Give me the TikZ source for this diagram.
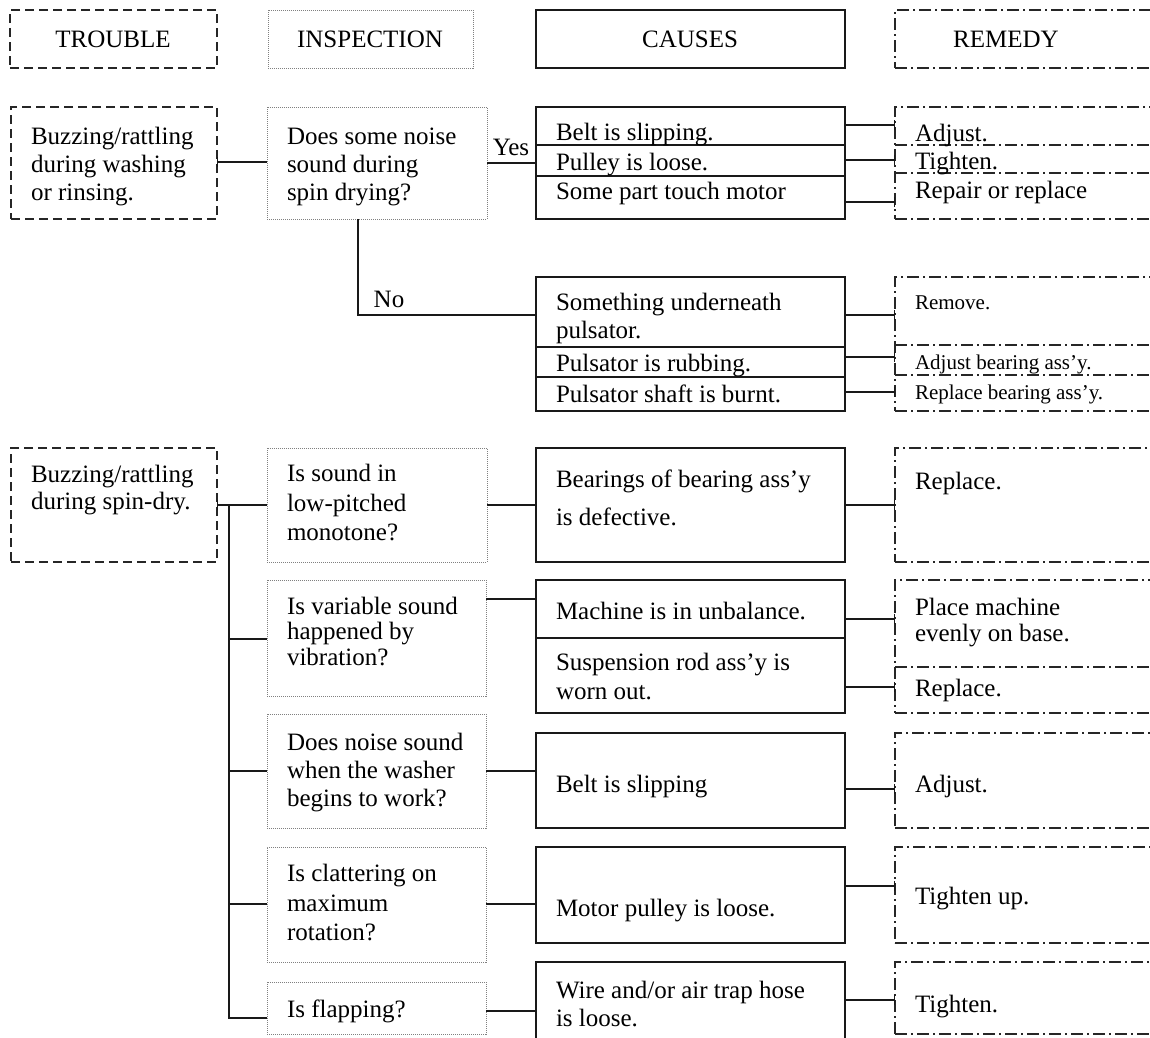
\documentclass[tikz,border=0pt]{standalone}
\usepackage{fontspec}
\setmainfont{Liberation Serif}
\usetikzlibrary{arrows.meta}
\newcommand\bx[6]{\node[#1, minimum width={(#4)-(#2)}, minimum height={(#5)-(#3)}] (#6) at ({((#2)+(#4))/2},{((#3)+(#5))/2}) {};}
\begin{document}
\begin{tikzpicture}[x=1pt,y=-1pt,
  every node/.style={inner sep=0pt, outer sep=0pt},
  trbox/.style={draw=black!85, line width=1.5pt, dash pattern=on 9pt off 5pt},
  inbox/.style={draw=black!50, line width=1pt, dash pattern=on 1pt off 1pt},
  cabox/.style={draw=black!90, line width=2pt},
  rebox/.style={draw=black!85, line width=1.5pt, dash pattern=on 12pt off 4pt on 2pt off 4pt},
  sepline/.style={draw=black!90, line width=1.8pt},
  rsep/.style={draw=black!85, line width=1.5pt, dash pattern=on 12pt off 4pt on 2pt off 4pt},
  conn/.style={draw=black!90, line width=2pt},
  rt/.style={-{Bar[width=10pt,line width=1.4pt]}},
  lt/.style={{Bar[width=10pt,line width=1.4pt]}-},
  txt/.style={anchor=west, align=left, yshift=-4pt, font=\fontsize{25}{27}\selectfont, execute at begin node=\strut, execute at end node=\strut},
  stxt/.style={anchor=west, align=left, yshift=-3pt, font=\fontsize{21}{24}\selectfont, execute at begin node=\strut, execute at end node=\strut},
  htxt/.style={anchor=center, font=\fontsize{25}{27}\selectfont, execute at begin node=\strut},
]
\useasboundingbox (0,0) rectangle (1150,1037);
\clip (0,0) rectangle (1150,1037);

% ---------- headers ----------
\bx{trbox}{10}{10}{217}{68}{hT}
\bx{inbox}{268}{10}{473}{68}{hI}
\bx{cabox}{536}{10}{845}{68}{hC}
\bx{rebox}{895}{10}{1170}{68}{hR}
\node[htxt] (hTt) at (113,42) {TROUBLE};
\node[htxt] (hIt) at (370,42) {INSPECTION};
\node[htxt] (hCt) at (690,42) {CAUSES};
\node[htxt] (hRt) at (1006,42) {REMEDY};

% ---------- trouble 1 ----------
\bx{trbox}{11}{107}{217}{219}{t1}
\bx{inbox}{267}{107}{487}{219}{i1}
\bx{cabox}{536}{107}{845}{219}{c1}
\bx{rebox}{895}{107}{1170}{219}{r1}
\draw[sepline] (c1.west |- 0,145) -- (c1.east |- 0,145);
\draw[sepline] (c1.west |- 0,176) -- (c1.east |- 0,176);
\draw[rsep] (r1.west |- 0,145) -- (r1.east |- 0,145);
\draw[rsep] (r1.west |- 0,173) -- (r1.east |- 0,173);

\bx{cabox}{536}{277}{845}{411}{c2}
\bx{rebox}{895}{277}{1170}{411}{r2}
\draw[sepline] (c2.west |- 0,347) -- (c2.east |- 0,347);
\draw[sepline] (c2.west |- 0,377) -- (c2.east |- 0,377);
\draw[rsep] (r2.west |- 0,345) -- (r2.east |- 0,345);
\draw[rsep] (r2.west |- 0,375) -- (r2.east |- 0,375);

\node[txt, font=\fontsize{25}{28}\selectfont] (t1x) at (31,164) {Buzzing/rattling\\during washing\\or rinsing.};
\node[txt, font=\fontsize{25}{28}\selectfont] (i1x) at (287,164) {Does some noise\\sound during\\spin drying?};
\node[txt] (c1a) at (556,131) {Belt is slipping.};
\node[txt] (c1b) at (556,161) {Pulley is loose.};
\node[txt] (c1c) at (556,190) {Some part touch motor};
\node[txt] (r1a) at (915,132) {Adjust.};
\node[txt] (r1b) at (915,160) {Tighten.};
\node[txt] (r1c) at (915,189) {Repair or replace};
\node[htxt] (yes) at (511,150) {Yes};
\node[htxt] (no) at (389,302) {No};
\node[txt, font=\fontsize{25}{28}\selectfont] (c2a) at (556,316) {Something underneath\\pulsator.};
\node[txt] (c2b) at (556,362) {Pulsator is rubbing.};
\node[txt] (c2c) at (556,393) {Pulsator shaft is burnt.};
\node[stxt] (r2a) at (915,302) {Remove.};
\node[stxt] (r2b) at (915,362) {Adjust bearing ass’y.};
\node[stxt] (r2c) at (915,392) {Replace bearing ass’y.};

\draw[conn, lt] (t1.east |- 0,162) -- (i1.west |- 0,162);
\draw[conn] (i1.east |- 0,163) -- (c1.west |- 0,163);
\draw[conn, rt] (c1.east |- 0,125) -- (r1.west |- 0,125);
\draw[conn, rt] (c1.east |- 0,160) -- (r1.west |- 0,160);
\draw[conn, rt] (c1.east |- 0,202) -- (r1.west |- 0,202);
\coordinate (nob) at (358,315);
\draw[conn] (i1.south -| nob) |- (c2.west |- nob);
\draw[conn, rt] (c2.east |- 0,315) -- (r2.west |- 0,315);
\draw[conn, rt] (c2.east |- 0,357) -- (r2.west |- 0,357);
\draw[conn, rt] (c2.east |- 0,392) -- (r2.west |- 0,392);

% ---------- trouble 2 ----------
\bx{trbox}{11}{448}{217}{562}{t2}
\bx{inbox}{267}{448}{487}{562}{i21}
\bx{cabox}{536}{448}{845}{562}{c21}
\bx{rebox}{895}{448}{1170}{562}{r21}
\bx{inbox}{267}{580}{486}{696}{i22}
\bx{cabox}{536}{580}{845}{713}{c22}
\bx{rebox}{895}{580}{1170}{713}{r22}
\draw[sepline] (c22.west |- 0,638) -- (c22.east |- 0,638);
\draw[rsep] (r22.west |- 0,667) -- (r22.east |- 0,667);
\bx{inbox}{267}{714}{486}{828}{i23}
\bx{cabox}{536}{733}{845}{828}{c23}
\bx{rebox}{895}{733}{1170}{828}{r23}
\bx{inbox}{267}{847}{486}{962}{i24}
\bx{cabox}{536}{847}{845}{943}{c24}
\bx{rebox}{895}{847}{1170}{943}{r24}
\bx{inbox}{267}{982}{486}{1034}{i25}
\bx{cabox}{536}{962}{845}{1045}{c25}
\bx{rebox}{895}{962}{1170}{1034}{r25}

\node[txt] (t2x) at (31,487) {Buzzing/rattling\\during spin-dry.};
\node[txt, font=\fontsize{25}{29.5}\selectfont] (i21x) at (287,503) {Is sound in\\low-pitched\\monotone?};
\node[txt, font=\fontsize{25}{38}\selectfont] (c21x) at (556,499) {Bearings of bearing ass’y\\is defective.};
\node[txt] (r21x) at (915,480) {Replace.};
\node[txt, font=\fontsize{25}{25.5}\selectfont] (i22x) at (287,631) {Is variable sound\\happened by\\vibration?};
\node[txt] (c22a) at (556,610) {Machine is in unbalance.};
\node[txt, font=\fontsize{25}{29}\selectfont] (c22b) at (556,677) {Suspension rod ass’y is\\worn out.};
\node[txt, font=\fontsize{25}{26}\selectfont] (r22a) at (915,620) {Place machine\\evenly on base.};
\node[txt] (r22b) at (915,687) {Replace.};
\node[txt, font=\fontsize{25}{28}\selectfont] (i23x) at (287,770) {Does noise sound\\when the washer\\begins to work?};
\node[txt] (c23x) at (556,783) {Belt is slipping};
\node[txt] (r23x) at (915,783) {Adjust.};
\node[txt, font=\fontsize{25}{29.5}\selectfont] (i24x) at (287,903) {Is clattering on\\maximum\\rotation?};
\node[txt] (c24x) at (556,907) {Motor pulley is loose.};
\node[txt] (r24x) at (915,895) {Tighten up.};
\node[txt] (i25x) at (287,1008) {Is flapping?};
\node[txt, font=\fontsize{25}{28}\selectfont] (c25x) at (556,1004) {Wire and/or air trap hose\\is loose.};
\node[txt] (r25x) at (915,1003) {Tighten.};

\coordinate (trk) at (229,505);
\draw[conn, lt] (t2.east |- trk) -- (i21.west |- trk);
\draw[conn] (trk) |- (i25.west |- 0,1018);
\draw[conn] (trk |- 0,639) -- (i22.west |- 0,639);
\draw[conn] (trk |- 0,771) -- (i23.west |- 0,771);
\draw[conn] (trk |- 0,904) -- (i24.west |- 0,904);
\draw[conn] (i21.east |- 0,505) -- (c21.west |- 0,505);
\draw[conn, rt] (c21.east |- 0,505) -- (r21.west |- 0,505);
\draw[conn] (i22.east |- 0,599) -- (c22.west |- 0,599);
\draw[conn, rt] (c22.east |- 0,619) -- (r22.west |- 0,619);
\draw[conn, rt] (c22.east |- 0,687) -- (r22.west |- 0,687);
\draw[conn] (i23.east |- 0,771) -- (c23.west |- 0,771);
\draw[conn, rt] (c23.east |- 0,789) -- (r23.west |- 0,789);
\draw[conn] (i24.east |- 0,904) -- (c24.west |- 0,904);
\draw[conn, rt] (c24.east |- 0,886) -- (r24.west |- 0,886);
\draw[conn] (i25.east |- 0,1011) -- (c25.west |- 0,1011);
\draw[conn, rt] (c25.east |- 0,1000) -- (r25.west |- 0,1000);
\end{tikzpicture}
\end{document}
